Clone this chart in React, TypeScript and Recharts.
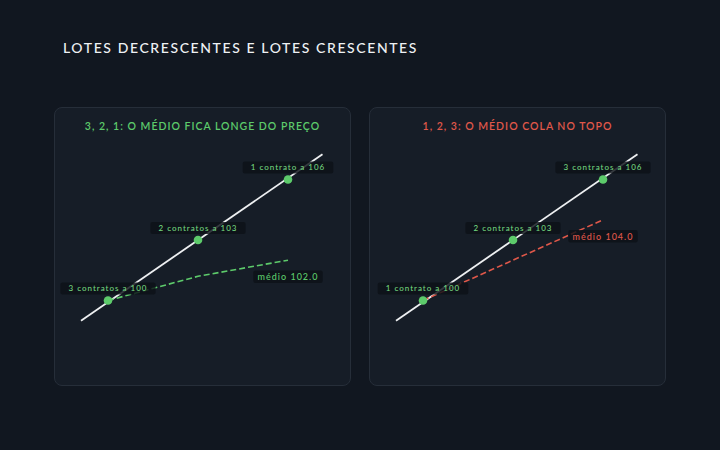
import { ComposedChart, Line, Scatter, XAxis, YAxis } from 'recharts';

const TITLE = 'LOTES DECRESCENTES E LOTES CRESCENTES';
const panelTitles = ['3, 2, 1: O MÉDIO FICA LONGE DO PREÇO', '1, 2, 3: O MÉDIO COLA NO TOPO'];
const entryPrices = [100, 103, 106];
const leftLots = [3, 2, 1];
const rightLots = [1, 2, 3];
const leftAvg = [100, 101.2, 102];
const rightAvg = [100, 102, 104];
const priceX = [99.1, 107.15];
const priceY = [99, 107.25];

const GREEN = '#5dcb6b';
const LABEL_GREEN = '#72d37e';
const RED = '#e0584a';
const FONT = 'Lato, "Noto Sans", sans-serif';

interface PanelProps {
  title: string;
  lots: number[];
  avg: number[];
  color: string;
  left: number;
}

function labelBox(cx: number, cy: number, text: string, color: string, size: number, key?: string) {
  const charW = size === 8 ? 4.6 : 5.4;
  const pad = size === 8 ? 17 : 10;
  const w = text.length * charW + pad;
  const h = size === 8 ? 12 : 12.5;
  return (
    <g key={key}>
      <rect x={cx - w / 2} y={cy - h / 2} width={w} height={h} rx={2} fill="#0c1117" fillOpacity={0.82} />
      <text x={cx} y={cy + size * 0.36} textAnchor="middle" fontSize={size} letterSpacing={1}
        fill={color} fontFamily={FONT} fontWeight={500}>
        {text}
      </text>
    </g>
  );
}

function Panel({ title, lots, avg, color, left }: PanelProps) {
  const priceData = priceX.map((x, i) => ({ x, y: priceY[i] }));
  const entryData = entryPrices.map((p, i) => ({ x: p, y: p, lots: lots[i] }));
  const avgData = entryPrices.map((p, i) => ({ x: p, y: avg[i] }));
  const last = avgData.length - 1;

  return (
    <div style={{
      position: 'absolute', left, top: 107, width: 297, height: 279,
      boxSizing: 'border-box', border: '1px solid #262e39', borderRadius: 8, background: '#161d27',
    }}>
      <div style={{
        position: 'absolute', left: 0, right: 0, top: 12, textAlign: 'center',
        fontFamily: FONT, fontSize: 10.5, letterSpacing: 1, color, fontWeight: 600,
      }}>
        {title}
      </div>
      <div style={{ position: 'absolute', left: -1, top: -1 }}>
        <ComposedChart width={297} height={279} margin={{ top: 12, right: 3, bottom: 25, left: 24 }}>
          <XAxis dataKey="x" type="number" domain={[99, 108]} hide />
          <YAxis dataKey="y" type="number" domain={[97, 109]} hide />
          <Line data={priceData} dataKey="y" stroke="#eef0f2" strokeWidth={1.8} dot={false} isAnimationActive={false} />
          <Scatter
            data={entryData}
            dataKey="y"
            isAnimationActive={false}
            shape={(p: any) => {
              const n = p.payload.lots;
              const text = `${n} ${n === 1 ? 'contrato' : 'contratos'} a ${p.payload.y}`;
              return (
                <g>
                  {labelBox(p.cx, p.cy - 12, text, LABEL_GREEN, 8)}
                  <circle cx={p.cx} cy={p.cy} r={4.3} fill={GREEN} />
                </g>
              );
            }}
          />
          <Line
            data={avgData}
            dataKey="y"
            stroke={color}
            strokeWidth={1.6}
            strokeDasharray="6 3"
            isAnimationActive={false}
            dot={(p: any) =>
              p.index === last
                ? labelBox(p.cx, p.cy + 16.5, `médio ${p.payload.y.toFixed(1)}`, color, 9, `d${p.index}`)
                : <g key={`d${p.index}`} />
            }
          />
        </ComposedChart>
      </div>
    </div>
  );
}

export default function App() {
  return (
    <div style={{ position: 'absolute', left: 0, top: 0, width: 720, height: 450, background: '#111720', overflow: 'hidden' }}>
      <div style={{
        position: 'absolute', left: 63, top: 39, fontFamily: FONT, fontSize: 14,
        letterSpacing: 1.6, color: '#eef1f4', fontWeight: 500,
      }}>
        {TITLE}
      </div>
      <Panel title={panelTitles[0]} lots={leftLots} avg={leftAvg} color={GREEN} left={54} />
      <Panel title={panelTitles[1]} lots={rightLots} avg={rightAvg} color={RED} left={369} />
    </div>
  );
}
